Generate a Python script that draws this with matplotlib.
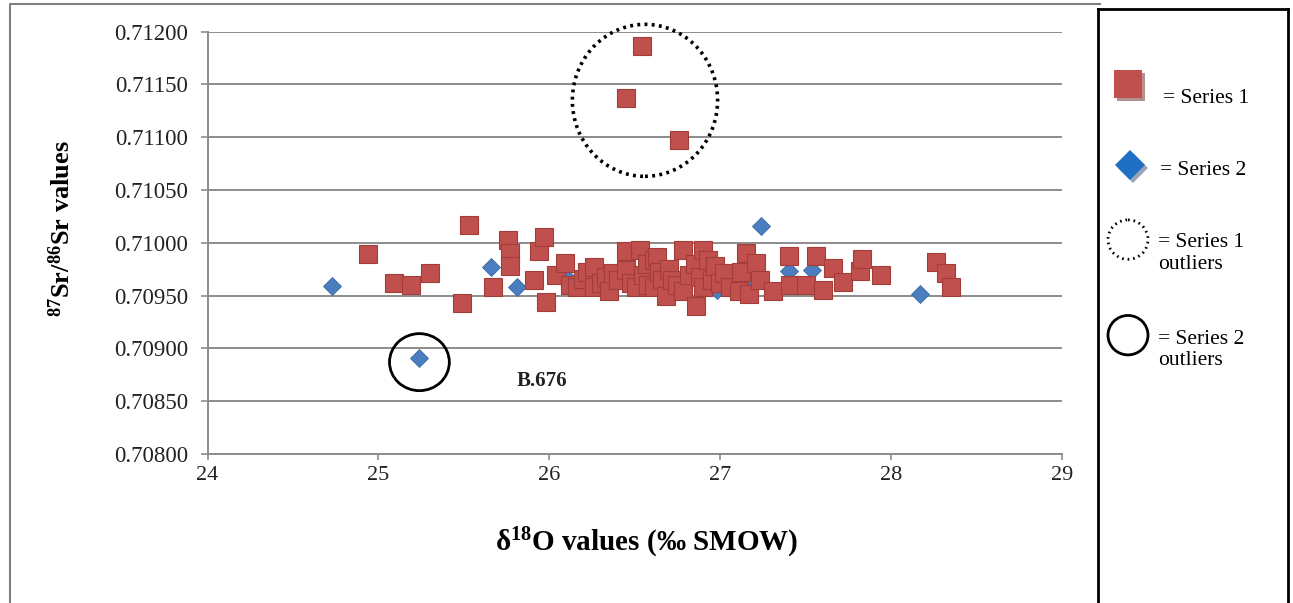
import matplotlib
matplotlib.use('Agg')
import matplotlib.pyplot as plt
from matplotlib.patches import Ellipse
from matplotlib.lines import Line2D

plt.rcParams['font.family'] = ['Liberation Serif', 'DejaVu Serif']
plt.rcParams['mathtext.fontset'] = 'custom'
plt.rcParams['mathtext.rm'] = 'Liberation Serif'
plt.rcParams['mathtext.bf'] = 'Liberation Serif:bold'
plt.rcParams['mathtext.default'] = 'bf'

# Series 1 (red squares): d18O, 87Sr/86Sr
s1_x = [26.54, 26.45, 26.76,
        24.94, 25.09, 25.19, 25.30, 25.49, 25.53, 25.67, 25.76, 25.77, 25.77,
        25.91, 25.94, 25.97, 25.98, 26.04, 26.09, 26.12, 26.16, 26.20, 26.22,
        26.26, 26.26, 26.30, 26.33, 26.35, 26.37, 26.40, 26.45, 26.45, 26.48,
        26.51, 26.53, 26.55, 26.57, 26.58, 26.61, 26.61, 26.63, 26.64, 26.66,
        26.68, 26.70, 26.72, 26.75, 26.78, 26.78, 26.82, 26.85, 26.86, 26.88,
        26.90, 26.90, 26.93, 26.95, 26.97, 27.00, 27.02, 27.06, 27.11, 27.12,
        27.15, 27.17, 27.21, 27.23, 27.31, 27.40, 27.41, 27.50, 27.56, 27.60,
        27.66, 27.72, 27.82, 27.83, 27.94, 28.26, 28.32, 28.35]
s1_y = [0.71186, 0.71137, 0.71097,
        0.70989, 0.70962, 0.70960, 0.70971, 0.70943, 0.71017, 0.70958, 0.71003, 0.70990, 0.70978,
        0.70965, 0.70992, 0.71006, 0.70944, 0.70970, 0.70981, 0.70960, 0.70958, 0.70966, 0.70972,
        0.70977, 0.70958, 0.70962, 0.70968, 0.70954, 0.70971, 0.70965, 0.70992, 0.70974, 0.70962,
        0.70958, 0.70993, 0.70970, 0.70980, 0.70960, 0.70984, 0.70958, 0.70987, 0.70972, 0.70965,
        0.70950, 0.70975, 0.70965, 0.70960, 0.70993, 0.70954, 0.70970, 0.70980, 0.70940, 0.70968,
        0.70993, 0.70958, 0.70984, 0.70965, 0.70978, 0.70962, 0.70971, 0.70958, 0.70954, 0.70972,
        0.70990, 0.70952, 0.70981, 0.70965, 0.70954, 0.70988, 0.70960, 0.70960, 0.70988, 0.70955,
        0.70976, 0.70963, 0.70973, 0.70985, 0.70970, 0.70982, 0.70971, 0.70958]

# Series 2 (blue diamonds)
s2_x = [24.73, 25.24, 25.66, 25.81, 26.10, 26.70, 26.98, 27.21, 27.24, 27.40, 27.54, 28.17]
s2_y = [0.70959, 0.70891, 0.70977, 0.70958, 0.70968, 0.70962, 0.70955, 0.70963, 0.71016,
        0.70973, 0.70974, 0.70952]

# outlier rings (centre x, centre y, width, height) and the sample label
ring1 = (26.56, 0.71135, 0.85, 0.00144)
ring2 = (25.24, 0.70887, 0.35, 0.00054)
label_b676 = (25.81, 0.70869, 'B.676')

y_ticks = [0.708, 0.7085, 0.709, 0.7095, 0.710, 0.7105, 0.711, 0.7115, 0.712]
x_ticks = [24, 25, 26, 27, 28, 29]

red = '#c0504d'
red_edge = '#a33d3a'
blue = '#4a7ebf'
blue_edge = '#3a6aa5'
grid_grey = '#8c8c8c'

W, H = 1293, 603
fig = plt.figure(figsize=(W / 100, H / 100), dpi=100)
ax = fig.add_axes([207.5 / W, 1 - 454 / H, (1062 - 207.5) / W, (454 - 31.7) / H])

ax.set_xlim(24, 29)
ax.set_ylim(0.708, 0.712)
ax.set_xticks(x_ticks)
ax.set_yticks(y_ticks)
ax.set_yticklabels(['%.5f' % v for v in y_ticks])
ax.grid(axis='y', color=grid_grey, linewidth=1.4)
ax.set_axisbelow(True)
for s in ['top', 'right']:
    ax.spines[s].set_visible(False)
for s in ['left', 'bottom']:
    ax.spines[s].set_color(grid_grey)
    ax.spines[s].set_linewidth(1.4)
ax.tick_params(axis='y', length=5, color=grid_grey, width=1.2, pad=9,
               labelsize=16.5, labelcolor='#222222')
ax.tick_params(axis='x', length=4, color=grid_grey, width=1.2, pad=5,
               labelsize=16, labelcolor='#222222')

ax.plot(s2_x, s2_y, linestyle='none', marker='D', ms=9, color=blue,
        markeredgecolor=blue_edge, markeredgewidth=0.6, zorder=2)
ax.plot(s1_x, s1_y, linestyle='none', marker='s', ms=12.8, color=red,
        markeredgecolor=red_edge, markeredgewidth=0.8, zorder=3)

cx, cy, w, h = ring1
ax.add_patch(Ellipse((cx, cy), w, h, fill=False, edgecolor='black',
                     linewidth=2.6, linestyle=(0, (0.8, 1.2)), zorder=4,
                     clip_on=False))
cx, cy, w, h = ring2
ax.add_patch(Ellipse((cx, cy), w, h, fill=False, edgecolor='black',
                     linewidth=2, zorder=4))
ax.text(label_b676[0], label_b676[1], label_b676[2], fontsize=15,
        fontweight='bold', ha='left', va='center', color='#222222')

fig.text(62 / W, 1 - 229 / H, '$^{87}$Sr/$^{86}$Sr values', rotation=90,
         ha='center', va='center', fontsize=19, fontweight='bold')
fig.text(647 / W, 1 - 543 / H, '\u03b4$^{18}$O values (\u2030 SMOW)',
         ha='center', va='center', fontsize=21, fontweight='bold')

# chart frame (grey) on the left and top
fig.add_artist(Line2D([10 / W, 10 / W, 1100 / W], [0, 1 - 4 / H, 1 - 4 / H],
                      color='#7f7f7f', linewidth=1.5))

# legend box drawn as its own axes, in pixel-like units
lax = fig.add_axes([1098 / W, -0.02, 190 / W, 1 - 9 / H + 0.02])
lax.set_xlim(0, 190)
lax.set_ylim(615, 0)
lax.set_xticks([])
lax.set_yticks([])
lax.spines['bottom'].set_visible(False)
for s in ['top', 'left', 'right']:
    lax.spines[s].set_linewidth(2)
    lax.spines[s].set_color('black')

lax.plot([33], [79], marker='s', ms=20.5, color='#b59090', markeredgewidth=0)
lax.plot([30], [76], marker='s', ms=20.5, color=red, markeredgewidth=0)
lax.plot([35], [161], marker='D', ms=15.5, color='#9aa6b8', markeredgewidth=0)
lax.plot([32], [158], marker='D', ms=15.5, color='#1f6fc4', markeredgewidth=0)
lax.add_patch(Ellipse((30, 234), 40, 40, fill=False, edgecolor='black',
                      linewidth=2, linestyle=(0, (0.6, 1.4))))
lax.add_patch(Ellipse((30, 331), 40, 40, fill=False, edgecolor='black',
                      linewidth=2))

lax.text(65, 91, '= Series 1', fontsize=15.5, ha='left', va='center')
lax.text(62, 164, '= Series 2', fontsize=15.5, ha='left', va='center')
lax.text(60, 248, '= Series 1\noutliers', fontsize=15.5, ha='left', va='center',
         linespacing=1.2)
lax.text(60, 346, '= Series 2\noutliers', fontsize=15.5, ha='left', va='center',
         linespacing=1.2)

fig.savefig('out.png', dpi=100)
